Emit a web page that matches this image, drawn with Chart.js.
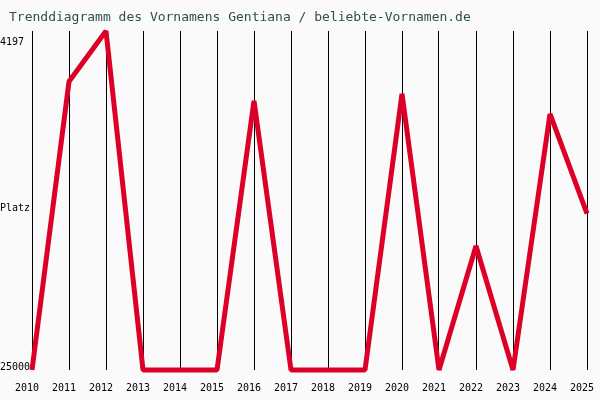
<!DOCTYPE html>
<html>
<head>
<meta charset="utf-8">
<script src="https://cdn.jsdelivr.net/npm/chart.js@4/dist/chart.umd.min.js"></script>
<style>
  body { margin: 0; background: #fafafa; }
  canvas { display: block; }
</style>
</head>
<body>
<canvas id="myChart" width="600" height="400"></canvas>
<script>
// Data (rank, lower is better)
const years = ['2010', '2011', '2012', '2013', '2014', '2015', '2016', '2017',
               '2018', '2019', '2020', '2021', '2022', '2023', '2024', '2025'];
const ranks = [25000, 7300, 4197, 25000, 25000, 25000, 8490, 25000,
               25000, 25000, 8060, 25000, 17390, 25000, 9290, 15400];
const yTickValues = [4870, 15060, 24820];
const yTickLabels = ['4197', 'Platz', '25000'];
const titleText = 'Trenddiagramm des Vornamens Gentiana / beliebte-Vornamen.de';

// Draws the title at the top left
const titlePlugin = {
    id: 'topTitle',
    afterDraw(chart) {
        const c = chart.ctx;
        c.save();
        c.font = '13px "DejaVu Sans Mono", monospace';
        c.fillStyle = '#2f4f4f';
        c.textBaseline = 'middle';
        c.fillText(titleText, 9, 18);
        c.restore();
    }
};

const ctx = document.getElementById('myChart').getContext('2d');
let myChart = new Chart(ctx, {
    type: 'line',
    data: {
        labels: years,
        datasets: [{
            data: ranks,
            borderColor: '#dc0028',
            borderWidth: 5,
            borderJoinStyle: 'bevel',
            pointRadius: 0,
            tension: 0,
            clip: { left: 6, top: 6, right: 6, bottom: 3 }
        }]
    },
    options: {
        responsive: false,
        animation: false,
        layout: { padding: { top: 31, right: 13, left: 0, bottom: 0 } },
        plugins: {
            legend: { display: false },
            tooltip: { enabled: false }
        },
        scales: {
            x: {
                grid: { color: '#000', lineWidth: 1, drawTicks: false },
                border: { display: false },
                ticks: {
                    color: '#000',
                    font: { family: '"DejaVu Sans Mono", monospace', size: 10 },
                    padding: 12,
                    labelOffset: -5,
                    maxRotation: 0,
                    autoSkip: false
                },
                afterFit(scale) {
                    scale.height = 30;
                    scale.paddingLeft = 0;
                    scale.paddingRight = 0;
                }
            },
            y: {
                reverse: true,
                min: 4197,
                max: 25000,
                grid: { display: false },
                border: { display: false },
                afterBuildTicks(scale) {
                    scale.ticks = yTickValues.map(v => ({ value: v }));
                },
                ticks: {
                    color: '#000',
                    font: { family: '"DejaVu Sans Mono", monospace', size: 10 },
                    crossAlign: 'far',
                    padding: 0,
                    callback: (v, i) => yTickLabels[i]
                },
                afterFit(scale) {
                    scale.width = 32;
                    scale.paddingTop = 0;
                    scale.paddingBottom = 0;
                }
            }
        }
    },
    plugins: [titlePlugin]
});
</script>
</body>
</html>
